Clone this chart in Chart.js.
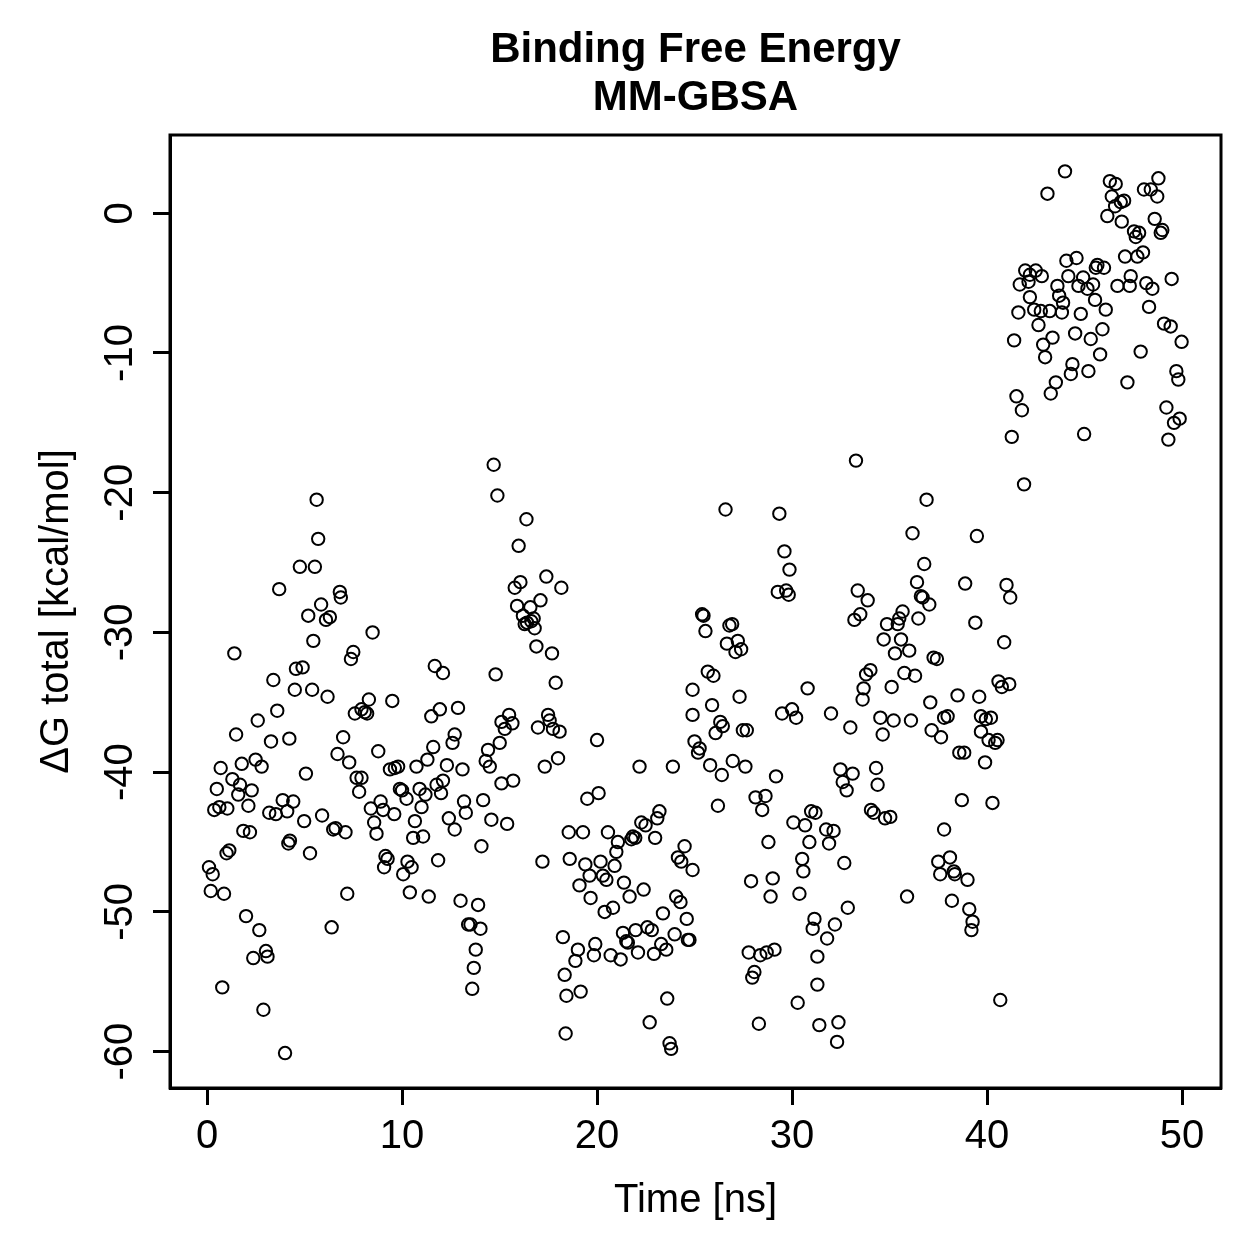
<!DOCTYPE html>
<html>
<head>
<meta charset="utf-8">
<script src="https://cdn.jsdelivr.net/npm/chart.js@4.4.1/dist/chart.umd.min.js"></script>
<style>
  html, body { margin: 0; padding: 0; background: #fff; }
  #wrap { width: 1259px; height: 1259px; }
</style>
</head>
<body>
<div id="wrap"><canvas id="mmgbsa" width="1259" height="1259"></canvas></div>
<script>
var dgT0to6 = [
  [0.10,-46.8],[0.29,-47.3],[0.19,-48.5],[0.37,-42.7],[0.63,-42.5],[0.50,-41.2],[0.70,-39.7],[1.04,-42.6],
  [0.87,-48.7],[0.78,-55.4],[1.14,-45.6],[1.00,-45.8],[1.30,-40.5],[1.69,-40.9],[1.60,-41.6],[1.40,-31.5],
  [1.49,-37.3],[1.78,-39.4],[1.86,-44.2],[2.20,-44.3],[2.12,-42.4],[2.29,-41.3],[2.00,-50.3],[2.49,-39.1],
  [2.80,-39.6],[2.60,-36.3],[2.37,-53.3],[2.68,-51.3],[3.02,-52.8],[3.10,-53.2],[2.89,-57.0],[3.28,-37.8],
  [3.40,-33.4],[3.19,-42.9],[3.53,-43.0],[3.60,-35.6],[3.70,-26.9],[3.88,-42.0],[4.11,-42.8],[4.42,-42.1],
  [4.00,-60.1],[4.25,-44.9],[4.17,-45.1],[4.22,-37.6],[4.50,-34.1],[4.56,-32.6],[4.90,-32.5],[4.76,-25.3],
  [4.98,-43.5],[5.07,-40.1],[5.28,-45.8],[5.19,-28.8],[5.39,-34.1],[5.45,-30.6],[5.53,-25.3],[5.62,-20.5],
  [5.70,-23.3],[5.85,-28.0],[5.90,-43.1]
];
var dgT6to12 = [
  [6.81,-27.1],[6.86,-27.5],[6.10,-29.1],[6.30,-28.9],[8.49,-30.0],[7.50,-31.4],[7.38,-31.9],[11.68,-32.4],
  [12.10,-32.9],[6.18,-34.6],[8.30,-34.8],[9.50,-34.9],[7.92,-35.5],[8.09,-35.7],[7.58,-35.8],[8.21,-35.8],
  [11.50,-36.0],[11.94,-35.5],[6.98,-37.5],[8.78,-38.5],[11.60,-38.2],[6.69,-38.7],[7.29,-39.3],[11.30,-39.1],
  [9.38,-39.8],[9.63,-39.7],[9.80,-39.6],[10.74,-39.6],[12.30,-39.5],[7.67,-40.4],[7.92,-40.4],[7.80,-41.4],
  [9.89,-41.2],[10.00,-41.3],[10.23,-41.9],[10.90,-41.2],[11.20,-41.6],[11.77,-40.9],[12.10,-40.6],[12.00,-41.5],
  [8.90,-42.1],[9.03,-42.7],[8.40,-42.6],[9.60,-43.0],[11.00,-42.5],[8.57,-43.6],[10.66,-43.5],[8.69,-44.4],
  [6.47,-44.1],[6.59,-44.0],[7.10,-44.3],[10.57,-44.7],[11.08,-44.6],[12.40,-43.3],[11.85,-46.3],[9.15,-46.0],
  [9.26,-46.2],[9.08,-46.8],[10.28,-46.4],[10.49,-46.8],[10.06,-47.3],[10.40,-48.6],[7.19,-48.7],[11.37,-48.9],
  [6.39,-51.1]
];
var dgT12to18 = [
  [14.70,-18.0],[14.89,-20.2],[16.38,-21.9],[15.98,-23.8],[15.78,-26.8],[16.07,-26.4],[17.40,-26.0],[18.17,-26.8],
  [15.90,-28.1],[16.58,-28.2],[17.10,-27.7],[16.20,-28.8],[16.75,-29.0],[16.41,-29.3],[16.63,-29.2],[16.29,-29.4],
  [16.80,-29.7],[16.89,-31.0],[17.69,-31.5],[17.88,-33.6],[14.80,-33.0],[12.87,-35.4],[12.70,-37.3],[12.59,-37.9],
  [15.10,-36.4],[15.49,-35.9],[15.66,-36.5],[15.27,-36.9],[15.01,-37.9],[16.97,-36.8],[17.49,-35.9],[17.57,-36.3],
  [17.74,-36.9],[18.08,-37.1],[14.41,-38.4],[14.29,-39.2],[14.50,-39.6],[18.00,-39.0],[17.32,-39.6],[13.10,-39.8],
  [15.10,-40.8],[15.70,-40.6],[13.18,-42.1],[13.27,-42.9],[14.16,-42.0],[12.70,-44.1],[14.58,-43.4],[15.39,-43.7],
  [18.55,-44.3],[14.07,-45.3],[17.20,-46.4],[18.60,-46.2],[13.00,-49.2],[13.90,-49.5],[13.39,-50.9],[13.51,-50.9],
  [14.02,-51.2],[13.78,-52.7],[13.68,-54.0],[13.60,-55.5],[18.25,-51.8],[18.34,-54.5],[18.43,-56.0],[18.39,-58.7]
];
var dgT18to25 = [
  [24.90,-34.1],[20.00,-37.7],[24.90,-35.9],[25.00,-37.8],[22.18,-39.6],[23.89,-39.6],[19.50,-41.9],[20.08,-41.5],
  [23.20,-42.8],[23.09,-43.3],[22.27,-43.6],[22.49,-43.8],[19.28,-44.3],[20.56,-44.3],[21.84,-44.6],[21.76,-44.8],
  [21.96,-44.7],[22.98,-44.7],[21.07,-45.0],[20.99,-45.7],[24.49,-45.3],[24.15,-46.1],[24.32,-46.4],[24.90,-47.0],
  [19.40,-46.6],[20.18,-46.4],[20.90,-46.7],[19.62,-47.4],[20.30,-47.4],[20.48,-47.7],[19.10,-48.1],[21.38,-47.9],
  [22.39,-48.4],[21.67,-48.9],[19.67,-49.0],[24.06,-48.9],[24.28,-49.3],[23.38,-50.1],[20.39,-50.0],[20.82,-49.7],
  [24.60,-50.5],[21.33,-51.5],[21.98,-51.3],[22.58,-51.1],[22.81,-51.3],[21.50,-52.1],[21.58,-52.2],[23.98,-51.6],
  [24.66,-52.0],[24.74,-52.0],[23.29,-52.3],[23.55,-52.7],[22.10,-52.9],[22.92,-53.0],[19.91,-52.3],[19.84,-53.1],
  [20.70,-53.1],[21.21,-53.4],[19.02,-52.7],[18.89,-53.5],[19.16,-55.7],[23.60,-56.2],[22.70,-57.9],[23.72,-59.4],
  [23.80,-59.8]
];
var dgT25to31 = [
  [26.59,-21.2],[29.35,-21.5],[29.61,-24.2],[29.87,-25.5],[29.27,-27.1],[29.70,-27.0],[29.83,-27.3],[25.39,-28.7],
  [25.46,-28.8],[25.56,-29.9],[26.79,-29.5],[26.93,-29.4],[26.66,-30.8],[27.22,-30.6],[27.10,-31.4],[27.39,-31.2],
  [25.68,-32.8],[25.97,-33.1],[25.90,-35.2],[27.31,-34.6],[30.80,-34.0],[29.49,-35.8],[30.00,-35.5],[30.21,-36.1],
  [26.32,-36.4],[26.45,-36.7],[26.08,-37.2],[27.48,-37.0],[27.68,-37.0],[25.26,-38.3],[25.18,-38.6],[25.80,-39.5],
  [26.40,-40.2],[26.96,-39.2],[27.61,-39.6],[29.18,-40.3],[26.20,-42.4],[28.13,-41.8],[28.64,-41.7],[28.47,-42.7],
  [30.98,-42.8],[31.20,-42.9],[30.07,-43.6],[30.67,-43.8],[28.79,-45.0],[30.89,-45.0],[30.52,-46.2],[30.58,-47.1],
  [27.90,-47.8],[29.01,-47.6],[28.90,-48.9],[30.38,-48.7],[31.15,-50.5],[31.06,-51.2],[27.78,-52.9],[28.37,-53.1],
  [28.70,-52.9],[29.10,-52.7],[28.07,-54.3],[27.96,-54.7],[31.30,-53.2],[31.30,-55.2],[30.29,-56.5],[28.30,-58.0],
  [31.40,-58.1]
];
var dgT31to38 = [
  [33.28,-17.7],[36.90,-20.5],[36.18,-22.9],[36.78,-25.1],[36.41,-26.4],[36.61,-27.4],[36.70,-27.5],[37.04,-28.0],
  [36.48,-29.0],[33.37,-27.0],[33.88,-27.7],[33.50,-28.7],[33.20,-29.1],[35.67,-28.5],[35.50,-29.0],[35.42,-29.4],
  [34.87,-29.4],[34.70,-30.5],[35.59,-30.5],[36.01,-31.3],[35.28,-31.5],[37.26,-31.8],[37.43,-31.9],[34.02,-32.7],
  [33.80,-33.0],[33.67,-34.0],[33.62,-34.8],[35.76,-32.9],[36.31,-33.1],[35.11,-33.9],[37.09,-35.0],[37.80,-36.1],
  [32.00,-35.8],[32.99,-36.8],[34.53,-36.1],[35.21,-36.3],[36.10,-36.3],[34.65,-37.3],[37.16,-37.0],[37.64,-37.5],
  [32.48,-39.8],[32.60,-40.7],[33.11,-40.1],[32.80,-41.3],[34.31,-39.7],[34.39,-40.9],[34.05,-42.7],[34.19,-42.9],
  [34.77,-43.3],[35.04,-43.2],[31.75,-44.1],[32.13,-44.2],[31.90,-45.1],[32.68,-46.5],[37.80,-44.1],[37.50,-46.4],
  [37.60,-47.3],[35.90,-48.9],[32.86,-49.7],[32.20,-50.9],[31.80,-51.9],[32.38,-57.9],[32.31,-59.3]
];
var dgT38to41 = [
  [41.90,-19.4],[39.48,-23.1],[38.88,-26.5],[41.00,-26.6],[41.19,-27.5],[39.40,-29.3],[40.88,-30.7],[40.59,-33.5],
  [40.76,-33.9],[41.14,-33.7],[38.49,-34.5],[39.60,-34.6],[37.98,-36.0],[39.69,-36.0],[39.94,-36.2],[40.20,-36.1],
  [39.69,-37.1],[40.08,-37.7],[40.42,-37.9],[40.54,-37.7],[38.58,-38.6],[38.83,-38.6],[39.90,-39.3],[38.71,-42.0],
  [40.28,-42.2],[38.10,-46.1],[38.30,-47.1],[38.35,-47.3],[39.00,-47.7],[38.20,-49.2],[39.09,-49.8],[39.26,-50.7],
  [39.20,-51.3],[40.68,-56.3]
];
var dgT41to50 = [
  [44.00,3.0],[43.10,1.4],[46.30,2.3],[46.60,2.1],[48.79,2.5],[48.05,1.7],[48.40,1.7],[48.73,1.2],
  [46.40,1.2],[47.03,0.9],[46.86,0.8],[46.57,0.5],[46.17,-0.2],[46.91,-0.6],[48.60,-0.4],[48.99,-1.2],
  [48.91,-1.4],[47.54,-1.3],[47.80,-1.4],[47.63,-1.7],[47.08,-3.1],[47.71,-3.1],[48.00,-2.8],[44.07,-3.4],
  [44.59,-3.2],[45.66,-3.7],[45.58,-3.9],[46.00,-3.9],[41.96,-4.1],[42.20,-4.4],[42.50,-4.1],[42.81,-4.5],
  [42.13,-4.9],[41.68,-5.1],[44.17,-4.5],[44.93,-4.6],[44.69,-5.2],[45.15,-5.4],[45.44,-5.1],[43.61,-5.2],
  [43.70,-5.9],[43.90,-6.4],[46.69,-5.2],[47.37,-4.5],[47.32,-5.2],[48.17,-5.0],[48.48,-5.4],[49.47,-4.7],
  [42.20,-6.0],[45.54,-6.2],[41.61,-7.1],[42.42,-6.9],[42.76,-7.0],[43.22,-7.0],[43.84,-7.1],[44.81,-7.2],
  [46.09,-6.9],[48.31,-6.7],[42.64,-8.0],[44.52,-8.6],[45.32,-9.0],[45.92,-8.3],[49.08,-7.9],[49.42,-8.1],
  [41.39,-9.1],[42.88,-9.4],[43.36,-8.9],[42.98,-10.3],[49.98,-9.2],[47.88,-9.9],[45.80,-10.1],[44.38,-10.8],
  [44.30,-11.5],[45.20,-11.3],[49.71,-11.3],[49.81,-11.9],[43.53,-12.1],[43.27,-12.9],[47.20,-12.1],[41.51,-13.1],
  [41.79,-14.1],[49.20,-13.9],[49.88,-14.7],[49.59,-15.0],[41.27,-16.0],[44.98,-15.8],[49.30,-16.2]
];

var xTicks = [0, 10, 20, 30, 40, 50];
var yTicks = [-60, -50, -40, -30, -20, -10, 0];
var titleLines = ["Binding Free Energy", "MM-GBSA"];
var xLabel = "Time [ns]";
var yLabel = "\u0394G total [kcal/mol]";

var samples = [].concat(dgT0to6, dgT6to12, dgT12to18, dgT18to25, dgT25to31, dgT31to38, dgT38to41, dgT41to50)
  .map(function (p) { return { x: p[0], y: p[1] }; });

var fontStack = '"Liberation Sans", Arial, Helvetica, sans-serif';

// R style box() around the plotting region
var plotBox = {
  id: 'plotBox',
  afterDraw: function (chart) {
    var a = chart.chartArea, ctx = chart.ctx;
    ctx.save();
    ctx.strokeStyle = '#000';
    ctx.lineWidth = 3;
    ctx.strokeRect(a.left, a.top, a.right - a.left, a.bottom - a.top);
    ctx.restore();
  }
};

// main title, centred over the plot region (not the whole canvas) like R's title()
var mainTitle = {
  id: 'mainTitle',
  afterDraw: function (chart) {
    var a = chart.chartArea, ctx = chart.ctx;
    var cx = (a.left + a.right) / 2;
    ctx.save();
    ctx.fillStyle = '#000';
    ctx.font = 'bold 42px ' + fontStack;
    ctx.textAlign = 'center';
    ctx.textBaseline = 'alphabetic';
    titleLines.forEach(function (line, i) {
      ctx.fillText(line, cx, 62 + i * 48);
    });
    ctx.restore();
  }
};

Chart.defaults.font.family = fontStack;
Chart.defaults.color = '#000';

new Chart(document.getElementById('mmgbsa'), {
  type: 'scatter',
  data: {
    datasets: [{
      data: samples,
      pointStyle: 'circle',
      pointRadius: 6.2,
      pointHoverRadius: 6.2,
      pointBorderWidth: 2,
      borderColor: '#000',
      backgroundColor: 'rgba(0,0,0,0)'
    }]
  },
  options: {
    responsive: false,
    animation: false,
    devicePixelRatio: 1,
    events: [],
    layout: { padding: { top: 135, right: 38, bottom: 0, left: 0 } },
    plugins: {
      legend: { display: false },
      tooltip: { enabled: false },
      title: { display: false }
    },
    scales: {
      x: {
        type: 'linear',
        min: -1.9,
        max: 52,
        afterBuildTicks: function (s) { s.ticks = xTicks.map(function (v) { return { value: v }; }); },
        afterFit: function (s) { s.height = 171; },
        grid: { drawOnChartArea: false, drawTicks: true, tickLength: 17, tickWidth: 3, tickColor: '#000' },
        border: { display: true, color: '#000', width: 3 },
        ticks: { font: { size: 40 }, color: '#000', padding: 8, minRotation: 0, maxRotation: 0 },
        title: { display: true, text: xLabel, color: '#000', font: { size: 40 }, padding: { top: 0, bottom: 34 } }
      },
      y: {
        type: 'linear',
        min: -62.6,
        max: 5.6,
        afterBuildTicks: function (s) { s.ticks = yTicks.map(function (v) { return { value: v }; }); },
        afterFit: function (s) { s.width = 170; },
        grid: { drawOnChartArea: false, drawTicks: true, tickLength: 17, tickWidth: 3, tickColor: '#000' },
        border: { display: true, color: '#000', width: 3 },
        ticks: { font: { size: 40 }, color: '#000', padding: 3, minRotation: 90, maxRotation: 90, crossAlign: 'center' },
        title: { display: true, text: yLabel, color: '#000', font: { size: 40 }, padding: { top: 33, bottom: 0 } }
      }
    }
  },
  plugins: [plotBox, mainTitle]
});
</script>
</body>
</html>
